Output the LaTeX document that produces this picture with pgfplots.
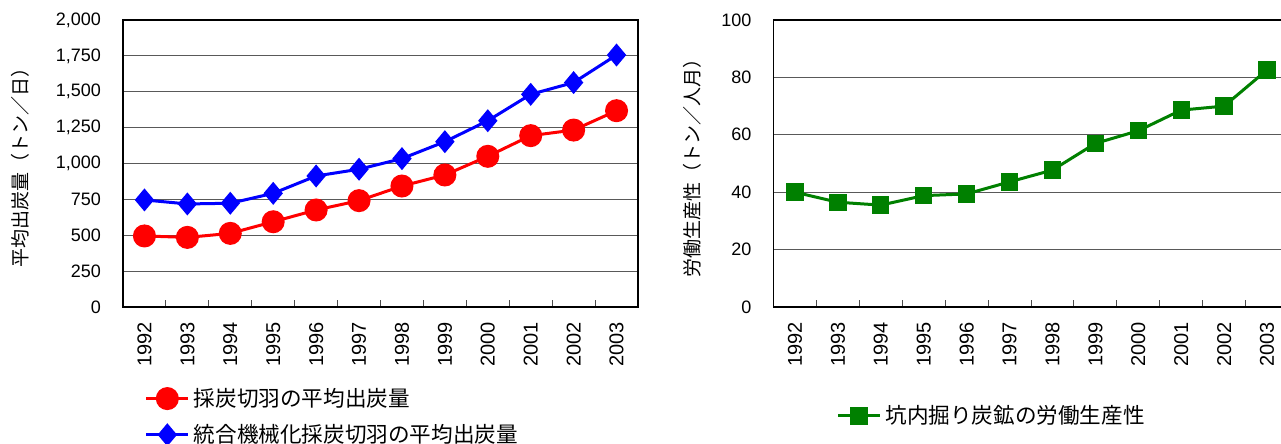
\documentclass[border=0pt]{standalone}
\usepackage{pgfplots}
\pgfplotsset{compat=1.18}
\usepackage{fontspec}
\setmainfont{Liberation Sans}
\newfontfamily\jp{Noto Sans CJK JP}
\definecolor{cred}{RGB}{255,0,0}
\definecolor{cblue}{RGB}{0,0,255}
\definecolor{cgreen}{RGB}{0,128,0}
\pgfplotsset{
  common/.style={
    anchor=south west, scale only axis, width=257.5pt, height=143.5pt,
    xmin=0.5, xmax=12.5,
    xtick={1,...,12},
    xticklabels={1992,1993,1994,1995,1996,1997,1998,1999,2000,2001,2002,2003},
    minor xtick={1.5,2.5,...,11.5},
    major x tick style={draw=none},
    minor tick length=3.3pt,
    x tick style={line width=0.5pt, black!70},
    xtick pos=bottom,
    tick align=inside,
    ymajorgrids,
    major grid style={black!65, line width=0.5pt},
    ytick style={draw=none},
    axis line style={line width=0.8pt},
    xticklabel style={rotate=90, anchor=east, font=\fontsize{10}{12}\selectfont, xshift=-4pt},
    yticklabel style={font=\fontsize{9}{11}\selectfont, xshift=-7.5pt},
    /pgf/number format/.cd, 1000 sep={,}, assume math mode=true, /pgfplots/.cd,
    legend style={draw=none, fill=none, anchor=north west, font=\jp\fontsize{10.8}{13}\selectfont, row sep=3.5pt, legend cell align=left},
    legend image code/.code={\draw[mark repeat=2,mark phase=2,#1] plot coordinates {(0pt,0pt) (10.5pt,0pt) (21pt,0pt)};},
  }
}
\begin{document}
\begin{tikzpicture}
\begin{axis}[common, at={(61.5pt,68.5pt)},
  ymin=0, ymax=2000, ytick={0,250,...,2000},
  ylabel={平均出炭量（トン／日）},
  every axis y label/.style={at={(axis description cs:-0.2,0.5)}, rotate=90, anchor=center, font=\jp\fontsize{9.5}{11}\selectfont},
  legend style={at={(axis description cs:0.03,-0.253)}},
]
\addplot[cred, line width=1.5pt, mark=*, mark size=5pt] coordinates {
(1,495) (2,485) (3,513) (4,594) (5,676) (6,741) (7,843) (8,920) (9,1050) (10,1194) (11,1233) (12,1368)};
\addlegendentry{採炭切羽の平均出炭量}
\addplot[cblue, line width=1.5pt, mark=diamond*, mark size=4.6pt, mark options={xscale=1.12}] coordinates {
(1,746) (2,718) (3,723) (4,792) (5,913) (6,960) (7,1034) (8,1152) (9,1298) (10,1482) (11,1564) (12,1756)};
\addlegendentry{統合機械化採炭切羽の平均出炭量}
\end{axis}
\begin{axis}[common, at={(386.75pt,68.5pt)},
  ymin=0, ymax=100, ytick={0,20,...,100},
  ylabel={労働生産性（トン／人月）},
  every axis y label/.style={at={(axis description cs:-0.157,0.5)}, rotate=90, anchor=center, font=\jp\fontsize{9.5}{11}\selectfont},
  legend style={at={(axis description cs:0.11,-0.313)}},
]
\addplot[cgreen, line width=1.5pt, mark=square*, mark size=3.6pt] coordinates {
(1,40.0) (2,36.5) (3,35.5) (4,38.8) (5,39.4) (6,43.6) (7,47.7) (8,57.0) (9,61.4) (10,68.6) (11,70.0) (12,82.6)};
\addlegendentry{坑内掘り炭鉱の労働生産性}
\end{axis}
\pgfresetboundingbox
\useasboundingbox (0,0) rectangle (640.5pt,222pt);
\end{tikzpicture}
\end{document}
